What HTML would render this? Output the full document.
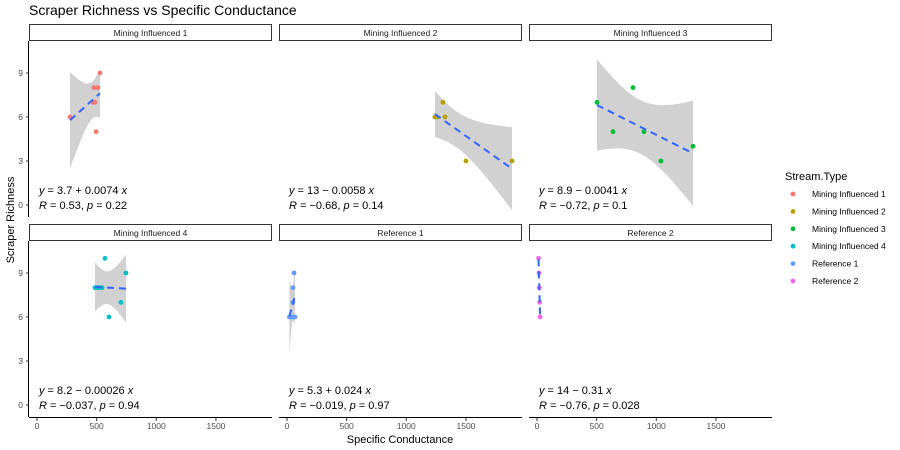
<!DOCTYPE html>
<html><head><meta charset="utf-8"><style>
body{margin:0;background:#fff}
svg{display:block;font-family:"Liberation Sans",sans-serif}
</style></head><body>
<svg id="chart" width="900" height="450" viewBox="0 0 900 450">
<text x="29" y="15" font-size="14" fill="#000">Scraper Richness vs Specific Conductance</text>
<text transform="translate(14,220) rotate(-90)" text-anchor="middle" font-size="11">Scraper Richness</text>
<text x="400" y="443" text-anchor="middle" font-size="11">Specific Conductance</text>
<g id="panels"></g>
<g id="legend">
<text x="785" y="180" font-size="11">Stream.Type</text>
</g>
</svg>
<script>
const panelNames=["Mining Influenced 1","Mining Influenced 2","Mining Influenced 3","Mining Influenced 4","Reference 1","Reference 2"];
const colors=["#F8766D","#B79F00","#00BA38","#00BFC4","#619CFF","#F564E3"];
const xMI1=[277,528,478,511,470,486,495];
const yMI1=[6,9,8,8,7,7,5];
const xMI2=[1240,1257,1324,1307,1500,1886];
const yMI2=[6,6,6,7,3,3];
const xMI3=[503,805,637,897,1308,1039];
const yMI3=[7,8,5,5,4,3];
const xMI4=[570,746,486,503,520,545,704,604];
const yMI4=[10,9,8,8,8,8,7,6];
const xRef1=[59,50,50,20,34,50,67];
const yRef1=[9,8,7,6,6,6,6];
const xRef2=[13,16,19,22,26];
const yRef2=[10,9,8,7,6];
const eqLines=[["3.7 + 0.0074","0.53","0.22"],["13 \u2212 0.0058","\u22120.68","0.14"],["8.9 \u2212 0.0041","\u22120.72","0.1"],["8.2 \u2212 0.00026","\u22120.037","0.94"],["5.3 + 0.024","\u22120.019","0.97"],["14 \u2212 0.31","\u22120.76","0.028"]];
const xTicks=[0,500,1000,1500];
const yTicks=[0,3,6,9];
const dataX=[xMI1,xMI2,xMI3,xMI4,xRef1,xRef2];
const dataY=[yMI1,yMI2,yMI3,yMI4,yRef1,yRef2];

const NS="http://www.w3.org/2000/svg";
function mk(tag,attrs,parent){const e=document.createElementNS(NS,tag);for(const k in attrs)e.setAttribute(k,attrs[k]);parent.appendChild(e);return e;}
const tTab={3:3.182,4:2.776,5:2.571,6:2.447,7:2.365};
const panelsG=document.getElementById('panels');
const colX=[29,279,529],rowTop=[41,241];
const PW=243;
function sx(col,v){return colX[col]+8+v*0.1193;}
function sy(row,v){return rowTop[row]+164-v*14.67;}

for(let i=0;i<6;i++){
  const col=i%3,row=Math.floor(i/3);
  const g=mk('g',{},panelsG);
  
  
  const cid='clip'+i;
  const cp=mk('clipPath',{id:cid},g);
  mk('rect',{x:colX[col],y:rowTop[row],width:PW,height:176},cp);
  const strip=mk('rect',{x:colX[col]+0.5,y:rowTop[row]-16.5,width:PW-1,height:16,fill:'#fff',stroke:'#333','stroke-width':1},g);
  
  
  const st=mk('text',{x:colX[col]+PW/2,y:rowTop[row]-5,'text-anchor':'middle','font-size':'8.5',fill:'#1a1a1a'},g);
  st.textContent=panelNames[i];
  
  
  // regression
  const xs=dataX[i],ys=dataY[i],n=xs.length;
  const xm=xs.reduce((a,b)=>a+b)/n,ym=ys.reduce((a,b)=>a+b)/n;
  let sxx=0,sxy=0;for(let k=0;k<n;k++){sxx+=(xs[k]-xm)**2;sxy+=(xs[k]-xm)*(ys[k]-ym);}
  const b=sxy/sxx,a=ym-b*xm;
  let sse=0;for(let k=0;k<n;k++)sse+=(ys[k]-a-b*xs[k])**2;
  const s=Math.sqrt(sse/(n-2)),t=tTab[n-2]||2.3;
  const xmin=Math.min(...xs),xmax=Math.max(...xs);
  let up=[],lo=[],ln=[];
  for(let k=0;k<=80;k++){const xv=xmin+(xmax-xmin)*k/80;const f=a+b*xv;const se=s*Math.sqrt(1/n+(xv-xm)**2/sxx);
    up.push(sx(col,xv).toFixed(1)+','+sy(row,f+t*se).toFixed(1));lo.unshift(sx(col,xv).toFixed(1)+','+sy(row,f-t*se).toFixed(1));}
  const cg=mk('g',{'clip-path':'url(#'+cid+')'},g);
  const rib=mk('polygon',{points:up.concat(lo).join(' '),fill:'#999','fill-opacity':0.45},cg);
  
  
  for(let k=0;k<n;k++){
    const c=mk('circle',{cx:sx(col,xs[k]),cy:sy(row,ys[k]),r:2.4,fill:colors[i]},cg);
    
    
  }
  const rl=mk('line',{x1:sx(col,xmin),y1:sy(row,a+b*xmin),x2:sx(col,xmax),y2:sy(row,a+b*xmax),stroke:'#3366FF','stroke-width':2,'stroke-dasharray':'7,5'},cg);
  
  
  // equation
  const e=eqLines[i];
  const t1=mk('text',{x:colX[col]+10,y:rowTop[row]+153,'font-size':'11'},g);
  t1.innerHTML='<tspan font-style="italic">y</tspan> = '+e[0]+' <tspan font-style="italic">x</tspan>';
  
  
  const t2=mk('text',{x:colX[col]+10,y:rowTop[row]+168,'font-size':'11'},g);
  t2.innerHTML='<tspan font-style="italic">R</tspan> = '+e[1]+', <tspan font-style="italic">p</tspan> = '+e[2];
  
  
  if(col==0){
    const ax=mk('line',{x1:colX[0]-0.5,y1:rowTop[row],x2:colX[0]-0.5,y2:rowTop[row]+176,stroke:'#000'},g);
    
    
    yTicks.forEach(v=>{
      mk('line',{x1:colX[0]-3,x2:colX[0],y1:sy(row,v),y2:sy(row,v),stroke:'#333'},g);
      const tl=mk('text',{x:colX[0]-6,y:sy(row,v)+3,'text-anchor':'end','font-size':'8.5',fill:'#4d4d4d'},g);
      tl.textContent=v;
      
      
    });
  }
  if(row==1){
    const ax=mk('line',{x1:colX[col],y1:417.5,x2:colX[col]+PW,y2:417.5,stroke:'#000'},g);
    
    
    xTicks.forEach(v=>{
      mk('line',{x1:sx(col,v),x2:sx(col,v),y1:418,y2:421,stroke:'#333'},g);
      const tl=mk('text',{x:sx(col,v),y:429,'text-anchor':'middle','font-size':'8.5',fill:'#4d4d4d'},g);
      tl.textContent=v;
      
      
    });
  }
}
const leg=document.getElementById('legend');
for(let i=0;i<6;i++){
  const y=194+i*17.4;
  const c=mk('circle',{cx:793,cy:y,r:2.4,fill:colors[i]},leg);
  
  
  const tx=mk('text',{x:812,y:y+3,'font-size':'8.5',fill:'#000'},leg);
  tx.textContent=panelNames[i];
  
  
}
</script>
</body></html>
